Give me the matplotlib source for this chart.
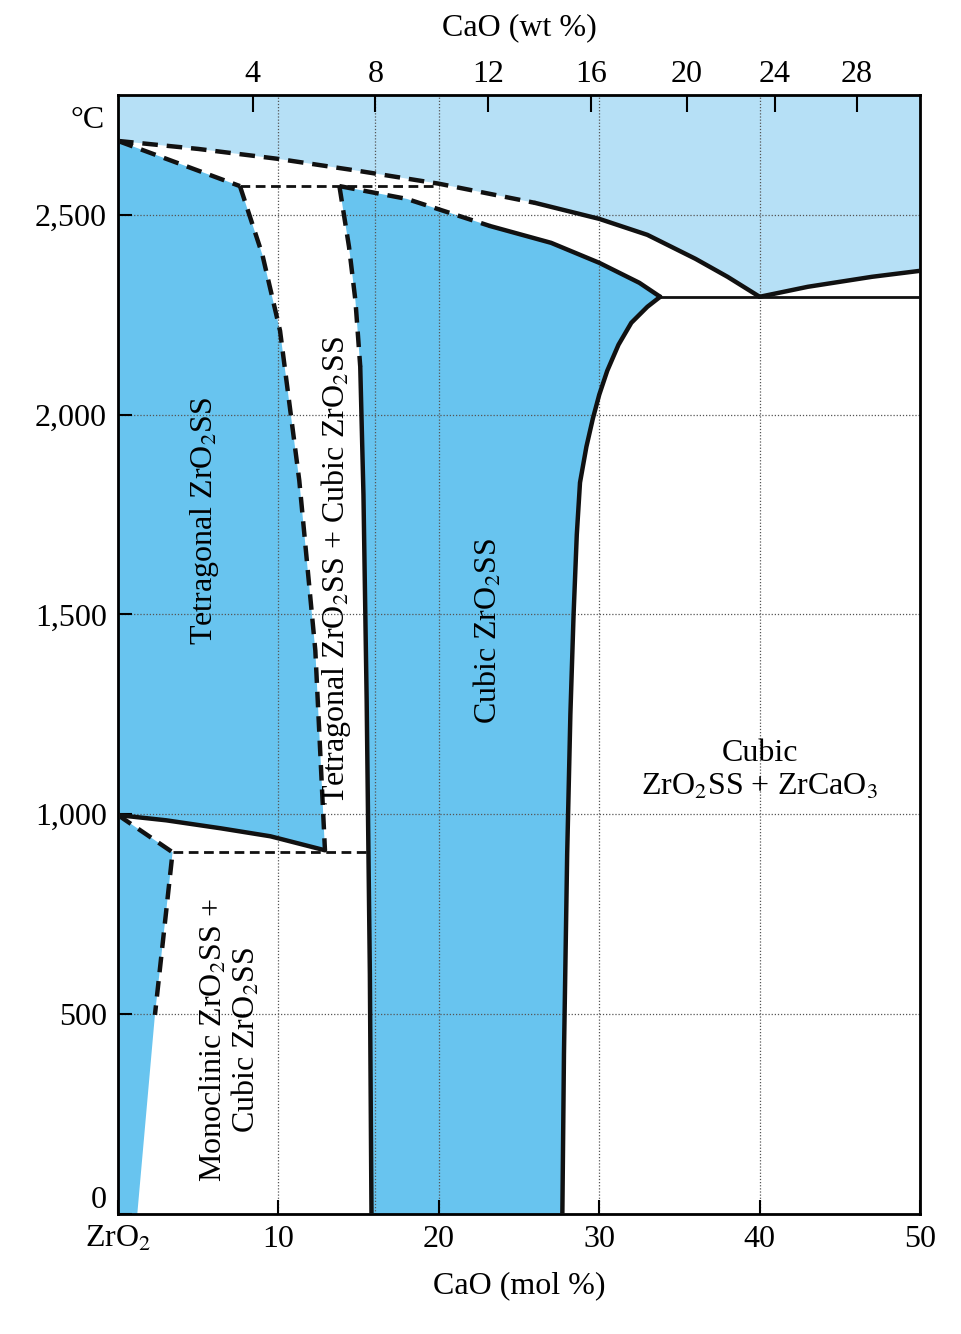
import numpy as np
import matplotlib.pyplot as plt
import matplotlib.transforms as mtransforms
from matplotlib.patches import Polygon

plt.rcParams['font.family'] = ['Liberation Serif', 'DejaVu Serif']
plt.rcParams['mathtext.fontset'] = 'stix'

BLUE = '#68c4ef'
LIGHT = '#b6e0f6'

# boundaries, (CaO mol %, T in C)
liquidus_l = [(0, 2685), (5, 2665), (10, 2640), (15, 2610), (20, 2578), (26, 2530)]
liquidus_r = [(26, 2530), (30, 2490), (33, 2450), (36, 2390), (38, 2345), (40, 2295)]
liq_right = [(40, 2295), (43, 2320), (47, 2345), (50, 2360)]
tet_right = [(7.6, 2572), (9.0, 2400), (10.1, 2210), (11.3, 1835), (12.3, 1410), (12.9, 910)]
tet_bottom = [(12.9, 910), (9.5, 945), (6.4, 965), (3.0, 985), (0, 998)]
cub_left_dash = [(13.8, 2572), (14.4, 2420), (14.8, 2285), (15.1, 2120)]
cub_left = [(15.1, 2120), (15.3, 1800), (15.5, 1285), (15.7, 600), (15.8, 0)]
solidus_dash = [(13.8, 2572), (18.0, 2540), (23.2, 2472)]
solidus = [(23.2, 2472), (27.0, 2430), (30.0, 2380), (32.5, 2330), (33.8, 2295)]
cub_right = [(33.8, 2295), (33.0, 2270), (32.0, 2230), (31.2, 2175), (30.5, 2110),
             (30.0, 2050), (29.6, 1990), (29.2, 1920), (28.8, 1830), (28.6, 1700),
             (28.4, 1500), (28.2, 1250), (28.0, 900), (27.8, 400), (27.7, 0)]
mono = [(0, 998), (3.4, 905), (2.3, 498)]
mono_low = [(2.3, 498), (1.2, 0)]
peritectic_T = 2572
monotectoid_T = 905
eutectic_T = 2295

wt_ticks = [4, 8, 12, 16, 20, 24, 28]


def wt_to_mol(w):
    a = w / 56.08
    b = (100 - w) / 123.22
    return 100 * a / (a + b)


fig = plt.figure(figsize=(9.62, 13.34), dpi=100)
ax = fig.add_axes([0.1227, 0.0900, 0.8337, 0.8388])
ax.set_xlim(0, 50)
ax.set_ylim(0, 2800)

top = 2800
liq = liquidus_l + liquidus_r[1:] + liq_right[1:] + [(50, top), (0, top)]
ax.add_patch(Polygon(liq, closed=True, fc=LIGHT, ec='none', zorder=0))
tet = [(0, 2685), (7.6, 2572)] + tet_right[1:] + tet_bottom[1:]
ax.add_patch(Polygon(tet, closed=True, fc=BLUE, ec='none', zorder=0))
cub = cub_left_dash + cub_left[1:] + cub_right[::-1] + solidus[::-1][1:] + solidus_dash[::-1][1:]
ax.add_patch(Polygon(cub, closed=True, fc=BLUE, ec='none', zorder=0))
ax.add_patch(Polygon(mono + mono_low[1:] + [(0, 0)], closed=True, fc=BLUE, ec='none', zorder=0))

for x in [10, 20, 30, 40]:
    ax.axvline(x, color='#555555', lw=0.9, ls=(0, (1, 1.5)), zorder=1)
ax.axvline(wt_to_mol(8), color='#555555', lw=0.9, ls=(0, (1, 1.5)), zorder=1)
for y in [500, 1000, 1500, 2000, 2500]:
    ax.axhline(y, color='#555555', lw=0.9, ls=(0, (1, 1.5)), zorder=1)


def line(pts, dashed=False, lw=3.2):
    xs, ys = zip(*pts)
    ax.plot(xs, ys, color='#111111', lw=lw, ls=(0, (3.5, 2)) if dashed else '-',
            solid_capstyle='round', zorder=3)


line(liquidus_l, True)
line(liquidus_r)
line(liq_right)
line([(0, 2685), (7.6, 2572)], True)
line(tet_right, True)
line(tet_bottom)
line(cub_left_dash, True)
line(cub_left)
line(solidus_dash, True)
line(solidus)
line(cub_right)
line(mono, True)
line([(7.6, peritectic_T), (20, peritectic_T)], True, lw=2)
line([(3.4, monotectoid_T), (15.6, monotectoid_T)], True, lw=2)
line([(33.8, eutectic_T), (50, eutectic_T)], lw=2)

fs = 23
ax.text(5.4, 1735, 'Tetragonal ZrO$_2$SS', rotation=90, ha='center', va='center', fontsize=fs)
ax.text(13.6, 1610, 'Tetragonal ZrO$_2$SS + Cubic ZrO$_2$SS', rotation=90,
        ha='center', va='center', fontsize=fs)
ax.text(23.1, 1460, 'Cubic ZrO$_2$SS', rotation=90, ha='center', va='center', fontsize=fs)
ax.text(40, 1110, 'Cubic\nZrO$_2$SS + ZrCaO$_3$', ha='center', va='center', fontsize=fs,
        linespacing=1.2)
ax.text(7.0, 435, 'Monoclinic ZrO$_2$SS +\nCubic ZrO$_2$SS', rotation=90,
        ha='center', va='center', fontsize=fs, linespacing=1.05)

ax.set_xticks([0, 10, 20, 30, 40, 50])
ax.set_xticklabels(['ZrO$_2$', '10', '20', '30', '40', '50'])
ax.set_yticks([0, 500, 1000, 1500, 2000, 2500])
ax.set_yticklabels(['0', '500', '1,000', '1,500', '2,000', '2,500'])
ax.tick_params(direction='in', length=10, width=1.5, labelsize=fs, pad=8)
lab0 = ax.get_yticklabels()[0]
lab0.set_transform(lab0.get_transform() + mtransforms.ScaledTranslation(0, 12 / 72, fig.dpi_scale_trans))
ax.text(-0.8, 2735, '°C', ha='right', va='center', fontsize=fs)
ax.set_xlabel('CaO (mol %)', fontsize=fs, labelpad=12)
for s in ax.spines.values():
    s.set_linewidth(2)

axt = ax.twiny()
axt.set_xlim(0, 50)
axt.set_xticks([wt_to_mol(w) for w in wt_ticks])
axt.set_xticklabels([str(w) for w in wt_ticks])
axt.tick_params(direction='in', length=12, width=1.5, labelsize=fs, pad=4)
axt.set_xlabel('CaO (wt %)', fontsize=fs, labelpad=18)

fig.savefig('out.png', dpi=100)
